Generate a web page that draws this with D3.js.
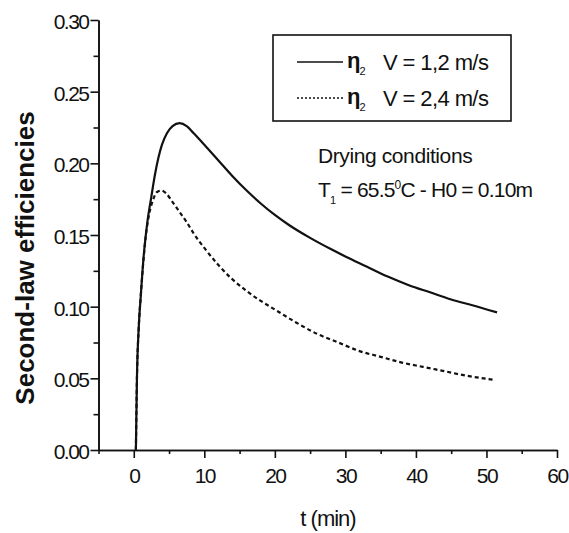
<!DOCTYPE html>
<html>
<head>
<meta charset="utf-8">
<script src="https://cdn.jsdelivr.net/npm/d3@7"></script>
<style>
  html, body { margin: 0; padding: 0; background: #fff; }
  svg { display: block; }
  text { font-family: "Liberation Sans", Arial, sans-serif; fill: #111; }
</style>
</head>
<body>
<svg id="chart" width="569" height="533"></svg>
<script>
// Drying time (min) and second-law efficiency, air velocity 1.2 m/s
const timeSlow = [0.3, 0.45, 0.7, 1.0, 1.4, 1.9, 2.5, 3.0, 3.5, 4.0, 4.7, 5.5, 6.5, 7.5, 8.5, 10, 12, 14, 16, 18, 20, 22, 25, 28, 30, 33, 36, 39, 42, 45, 48, 51.5];
const etaSlow  = [0.000, 0.050, 0.085, 0.108, 0.135, 0.158, 0.177, 0.192, 0.204, 0.213, 0.221, 0.226, 0.228, 0.226, 0.221, 0.213, 0.202, 0.191, 0.181, 0.172, 0.164, 0.157, 0.148, 0.140, 0.135, 0.128, 0.121, 0.115, 0.110, 0.105, 0.101, 0.096];

// Same drying run, air velocity 2.4 m/s
const timeFast = [0.3, 0.45, 0.7, 1.0, 1.3, 1.7, 2.2, 2.7, 3.3, 3.9, 4.6, 5.5, 6.5, 7.5, 8.5, 10, 12, 14, 16, 18, 20, 23, 26, 29, 32, 35, 38, 41, 44, 47, 51];
const etaFast  = [0.000, 0.050, 0.085, 0.108, 0.128, 0.149, 0.165, 0.174, 0.180, 0.181, 0.179, 0.173, 0.166, 0.159, 0.151, 0.141, 0.129, 0.119, 0.111, 0.104, 0.098, 0.089, 0.081, 0.075, 0.069, 0.065, 0.061, 0.058, 0.055, 0.052, 0.049];

const xMajorTicks = [0, 10, 20, 30, 40, 50, 60];
const xMinorTicks = [-5, 5, 15, 25, 35, 45, 55];
const yMajorTicks = [0.00, 0.05, 0.10, 0.15, 0.20, 0.25, 0.30];
const yMinorTicks = [0.025, 0.075, 0.125, 0.175, 0.225, 0.275];

const legendLabels = ["V = 1,2 m/s", "V = 2,4 m/s"];

const svg = d3.select("#chart");

const x = d3.scaleLinear().domain([-5, 60]).range([98.5, 557]);
const y = d3.scaleLinear().domain([0, 0.30]).range([450, 20]);

// Axes: major ticks with labels, minor ticks without
const xAxis = svg.append("g").attr("transform", `translate(0,${y(0)})`)
  .call(d3.axisBottom(x).tickValues(xMajorTicks).tickSize(8).tickSizeOuter(0).tickFormat(d3.format("d")));
svg.append("g").attr("transform", `translate(0,${y(0)})`)
  .call(d3.axisBottom(x).tickValues(xMinorTicks).tickSize(4).tickSizeOuter(0).tickFormat(""));

const yAxis = svg.append("g").attr("transform", `translate(${x(-5)},0)`)
  .call(d3.axisLeft(y).tickValues(yMajorTicks).tickSize(8).tickSizeOuter(0).tickFormat(d3.format(".2f")));
svg.append("g").attr("transform", `translate(${x(-5)},0)`)
  .call(d3.axisLeft(y).tickValues(yMinorTicks).tickSize(5).tickSizeOuter(0).tickFormat(""));

svg.selectAll(".domain, .tick line").attr("stroke", "#111").attr("stroke-width", 1.6);

xAxis.selectAll(".tick text")
  .attr("y", 18).attr("dy", "0.71em")
  .style("font-size", "21px").style("letter-spacing", "-1.5px");
yAxis.selectAll(".tick text")
  .attr("x", -10).attr("dy", "0.4em")
  .style("font-size", "21px").style("letter-spacing", "-1.5px");

// Axis titles
svg.append("text")
  .attr("x", 328).attr("y", 526)
  .attr("text-anchor", "middle")
  .style("font-size", "22px").style("letter-spacing", "-1px")
  .text("t (min)");

svg.append("text")
  .attr("transform", "translate(34,258) rotate(-90)")
  .attr("text-anchor", "middle")
  .style("font-size", "26px").style("font-weight", "bold")
  .text("Second-law efficiencies");

// Efficiency curves
const line = d3.line().x(d => x(d[0])).y(d => y(d[1])).curve(d3.curveMonotoneX);
const slowPts = timeSlow.map((t, i) => [t, etaSlow[i]]);
const fastPts = timeFast.map((t, i) => [t, etaFast[i]]);

svg.append("path").datum(slowPts)
  .attr("d", line).attr("fill", "none")
  .attr("stroke", "#111").attr("stroke-width", 2.2);

svg.append("path").datum(fastPts)
  .attr("d", line).attr("fill", "none")
  .attr("stroke", "#111").attr("stroke-width", 2.2)
  .attr("stroke-dasharray", "4,3");

// Legend box
const lg = svg.append("g");
lg.append("rect")
  .attr("x", 273).attr("y", 35).attr("width", 238).attr("height", 86)
  .attr("fill", "#fff").attr("stroke", "#111").attr("stroke-width", 1.6);

const rows = [
  { y: 62, dash: null, label: legendLabels[0] },
  { y: 98, dash: "2,2", label: legendLabels[1] }
];
rows.forEach(r => {
  lg.append("line")
    .attr("x1", 297).attr("x2", 343).attr("y1", r.y).attr("y2", r.y)
    .attr("stroke", "#111").attr("stroke-width", r.dash ? 1.6 : 1.4)
    .attr("stroke-dasharray", r.dash);
  const eta = lg.append("text")
    .attr("x", 347).attr("y", r.y + 6)
    .style("font-size", "22px").style("font-weight", "bold");
  eta.append("tspan").text("η");
  eta.append("tspan").attr("dx", -1).attr("dy", 7)
    .style("font-size", "11px").style("font-weight", "normal").text("2");
  lg.append("text")
    .attr("x", 383).attr("y", r.y + 8)
    .style("font-size", "22px").style("letter-spacing", "-0.6px")
    .text(r.label);
});

// Drying conditions note
svg.append("text")
  .attr("x", 318).attr("y", 163)
  .style("font-size", "21px").style("letter-spacing", "-0.4px")
  .text("Drying conditions");

const cond = svg.append("text")
  .attr("x", 318).attr("y", 197)
  .style("font-size", "21px").style("letter-spacing", "-0.8px");
cond.append("tspan").text("T");
cond.append("tspan").attr("dy", 7).style("font-size", "11px").text("1");
cond.append("tspan").attr("dy", -7).text(" = 65.5");
cond.append("tspan").attr("dy", -8).style("font-size", "12px").text("0");
cond.append("tspan").attr("dy", 8).text("C  -  H0 = 0.10m");
</script>
</body>
</html>
